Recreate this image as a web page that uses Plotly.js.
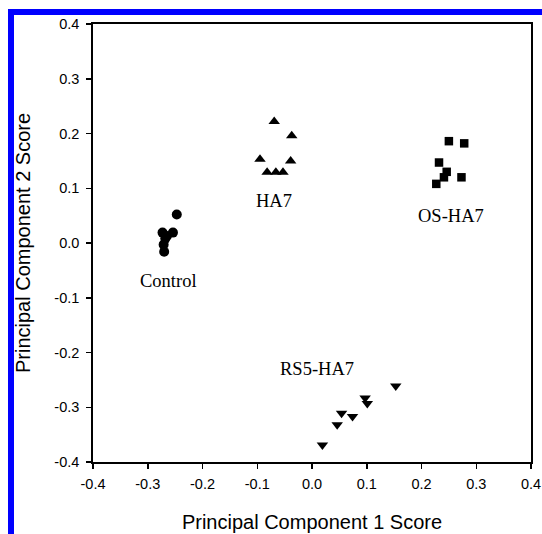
<!DOCTYPE html>
<html>
<head>
<meta charset="utf-8">
<script src="https://cdn.plot.ly/plotly-3.0.1.min.js"></script>
<style>
  html, body { margin: 0; padding: 0; background: #fff; }
  #wrap { position: relative; width: 542px; height: 534px; overflow: hidden; }
  #chart { position: absolute; left: 0; top: 0; width: 542px; height: 534px; }
  #frame { position: absolute; left: 8px; top: 9px; width: 540px; height: 530px;
           border-left: 6px solid #0000ff; border-top: 6px solid #0000ff; pointer-events: none; }
</style>
</head>
<body>
<div id="wrap">
  <div id="chart"></div>
  <div id="frame"></div>
</div>
<script>
// ---- data ----
const groupNames = ["Control", "HA7", "OS-HA7", "RS5-HA7"];
const controlX = [-0.247, -0.273, -0.254, -0.265, -0.268, -0.271, -0.270];
const controlY = [0.052, 0.019, 0.019, 0.013, 0.008, -0.003, -0.016];
const ha7X = [-0.069, -0.037, -0.095, -0.039, -0.082, -0.066, -0.053];
const ha7Y = [0.222, 0.196, 0.153, 0.150, 0.129, 0.129, 0.129];
const osX = [0.250, 0.278, 0.232, 0.246, 0.241, 0.273, 0.227];
const osY = [0.186, 0.182, 0.147, 0.130, 0.120, 0.120, 0.108];
const rsX = [0.153, 0.097, 0.101, 0.054, 0.074, 0.046, 0.019];
const rsY = [-0.261, -0.283, -0.293, -0.311, -0.317, -0.332, -0.369];
const labelX = [-0.263, -0.069, 0.253, 0.009];
const labelY = [-0.070, 0.076, 0.049, -0.230];
const tickVals = [-0.4, -0.3, -0.2, -0.1, 0.0, 0.1, 0.2, 0.3, 0.4];
const tickText = ["-0.4", "-0.3", "-0.2", "-0.1", "0.0", "0.1", "0.2", "0.3", "0.4"];
const xTitle = "Principal Component 1 Score";
const yTitle = "Principal Component 2 Score";

const mk = (sym, size) => ({ symbol: sym, size: size, color: "#000", line: { width: 0 } });
const traces = [
  { x: controlX, y: controlY, name: groupNames[0], type: "scatter", mode: "markers", marker: mk("circle", 10) },
  { x: ha7X, y: ha7Y, name: groupNames[1], type: "scatter", mode: "markers", marker: mk("triangle-up", 10) },
  { x: osX, y: osY, name: groupNames[2], type: "scatter", mode: "markers", marker: mk("square", 8.5) },
  { x: rsX, y: rsY, name: groupNames[3], type: "scatter", mode: "markers", marker: mk("triangle-down", 10) }
];

const axisBase = {
  range: [-0.4, 0.4],
  tickvals: tickVals,
  ticktext: tickText,
  ticks: "outside",
  ticklen: 5,
  tickwidth: 1.5,
  tickcolor: "#000",
  showline: true,
  linecolor: "#000",
  linewidth: 1.8,
  mirror: true,
  showgrid: false,
  zeroline: false,
  tickfont: { family: "Liberation Sans, Arial, sans-serif", size: 14.5, color: "#000" }
};

const layout = {
  width: 542,
  height: 534,
  margin: { l: 92.6, r: 10.7, t: 23.5, b: 72 },
  paper_bgcolor: "#fff",
  plot_bgcolor: "#fff",
  showlegend: false,
  xaxis: Object.assign({}, axisBase, {
    ticklabelstandoff: 3,
    title: { text: xTitle, font: { family: "Liberation Sans, Arial, sans-serif", size: 20, color: "#000" }, standoff: 24 }
  }),
  yaxis: Object.assign({}, axisBase, {
    ticklabelstandoff: 4,
    title: { text: yTitle, font: { family: "Liberation Sans, Arial, sans-serif", size: 20, color: "#000" }, standoff: 18 }
  }),
  annotations: groupNames.map((g, i) => ({
    x: labelX[i], y: labelY[i], xref: "x", yref: "y", text: g, showarrow: false,
    font: { family: "Liberation Serif, Times New Roman, serif", size: 18.5, color: "#000" }
  }))
};

Plotly.newPlot("chart", traces, layout, { staticPlot: true, displayModeBar: false });
</script>
</body>
</html>
